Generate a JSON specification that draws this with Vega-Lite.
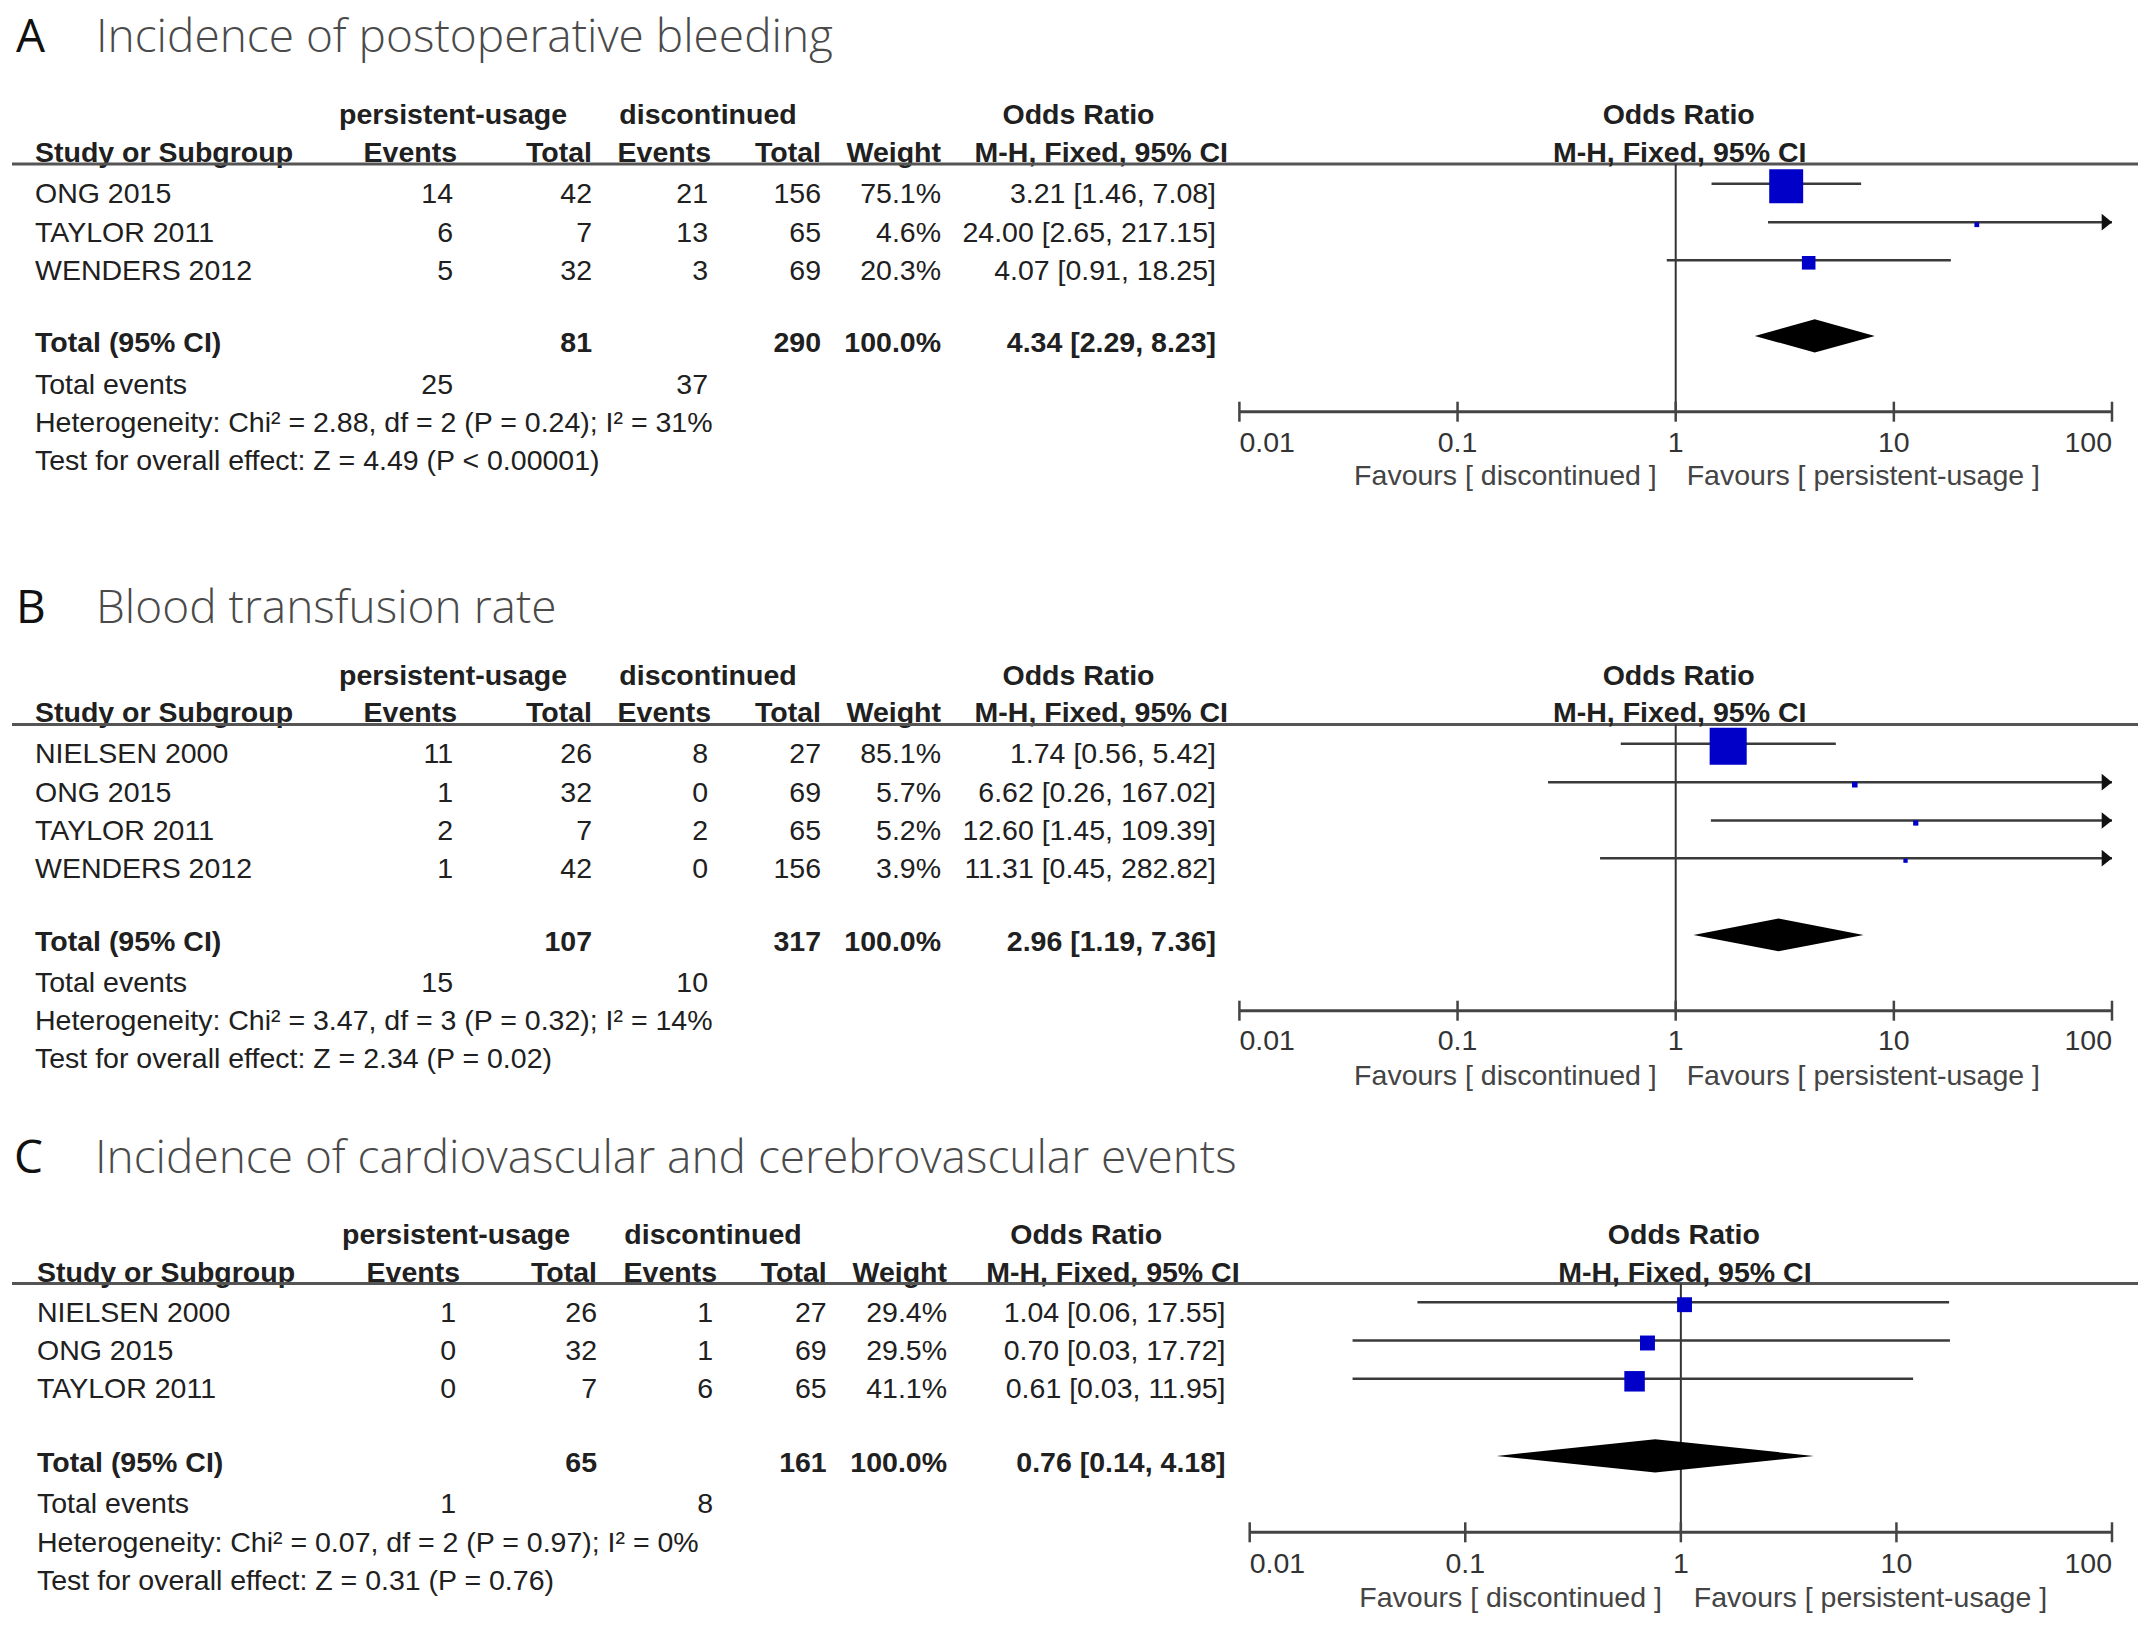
{
  "$schema": "https://vega.github.io/schema/vega-lite/v6.json",
  "width": 2150,
  "height": 1626,
  "padding": 0,
  "autosize": {"type": "none"},
  "background": "white",
  "config": {
    "view": {"stroke": null},
    "text": {"font": "Liberation Sans", "fontSize": 28.5, "color": "#202020", "baseline": "alphabetic"}
  },
  "datasets": {
    "panels": [
      {"panel": "A", "letter": "A", "title": "Incidence of postoperative bleeding", "line": 0, "head1": 1, "head2": 2, "rule": 3, "axis": 9, "tickText": 11, "favours": 13},
      {"panel": "B", "letter": "B", "title": "Blood transfusion rate", "line": 14, "head1": 15, "head2": 16, "rule": 17, "axis": 24, "tickText": 26, "favours": 28},
      {"panel": "C", "letter": "C", "title": "Incidence of cardiovascular and cerebrovascular events", "line": 29, "head1": 30, "head2": 31, "rule": 32, "axis": 38, "tickText": 40, "favours": 42}
    ],
    "studies": [
      {"panel": "A", "line": 4, "study": "ONG 2015", "e1": 14, "n1": 42, "e2": 21, "n2": 156, "weight": 0.751, "ci": "3.21 [1.46, 7.08]", "or": 3.21, "lo": 1.46, "hi": 7.08},
      {"panel": "A", "line": 5, "study": "TAYLOR 2011", "e1": 6, "n1": 7, "e2": 13, "n2": 65, "weight": 0.046, "ci": "24.00 [2.65, 217.15]", "or": 24.0, "lo": 2.65, "hi": 217.15},
      {"panel": "A", "line": 6, "study": "WENDERS 2012", "e1": 5, "n1": 32, "e2": 3, "n2": 69, "weight": 0.203, "ci": "4.07 [0.91, 18.25]", "or": 4.07, "lo": 0.91, "hi": 18.25},
      {"panel": "B", "line": 18, "study": "NIELSEN 2000", "e1": 11, "n1": 26, "e2": 8, "n2": 27, "weight": 0.851, "ci": "1.74 [0.56, 5.42]", "or": 1.74, "lo": 0.56, "hi": 5.42},
      {"panel": "B", "line": 19, "study": "ONG 2015", "e1": 1, "n1": 32, "e2": 0, "n2": 69, "weight": 0.057, "ci": "6.62 [0.26, 167.02]", "or": 6.62, "lo": 0.26, "hi": 167.02},
      {"panel": "B", "line": 20, "study": "TAYLOR 2011", "e1": 2, "n1": 7, "e2": 2, "n2": 65, "weight": 0.052, "ci": "12.60 [1.45, 109.39]", "or": 12.6, "lo": 1.45, "hi": 109.39},
      {"panel": "B", "line": 21, "study": "WENDERS 2012", "e1": 1, "n1": 42, "e2": 0, "n2": 156, "weight": 0.039, "ci": "11.31 [0.45, 282.82]", "or": 11.31, "lo": 0.45, "hi": 282.82},
      {"panel": "C", "line": 33, "study": "NIELSEN 2000", "e1": 1, "n1": 26, "e2": 1, "n2": 27, "weight": 0.294, "ci": "1.04 [0.06, 17.55]", "or": 1.04, "lo": 0.06, "hi": 17.55},
      {"panel": "C", "line": 34, "study": "ONG 2015", "e1": 0, "n1": 32, "e2": 1, "n2": 69, "weight": 0.295, "ci": "0.70 [0.03, 17.72]", "or": 0.7, "lo": 0.03, "hi": 17.72},
      {"panel": "C", "line": 35, "study": "TAYLOR 2011", "e1": 0, "n1": 7, "e2": 6, "n2": 65, "weight": 0.411, "ci": "0.61 [0.03, 11.95]", "or": 0.61, "lo": 0.03, "hi": 11.95}
    ],
    "totals": [
      {"panel": "A", "line": 7, "n1": 81, "n2": 290, "weight": 1, "ci": "4.34 [2.29, 8.23]", "or": 4.34, "lo": 2.29, "hi": 8.23},
      {"panel": "B", "line": 22, "n1": 107, "n2": 317, "weight": 1, "ci": "2.96 [1.19, 7.36]", "or": 2.96, "lo": 1.19, "hi": 7.36},
      {"panel": "C", "line": 36, "n1": 65, "n2": 161, "weight": 1, "ci": "0.76 [0.14, 4.18]", "or": 0.76, "lo": 0.14, "hi": 4.18}
    ],
    "events": [
      {"panel": "A", "line": 8, "ev1": 25, "ev2": 37},
      {"panel": "B", "line": 23, "ev1": 15, "ev2": 10},
      {"panel": "C", "line": 37, "ev1": 1, "ev2": 8}
    ],
    "notes": [
      {"panel": "A", "line": 10, "text": "Heterogeneity: Chi² = 2.88, df = 2 (P = 0.24); I² = 31%"},
      {"panel": "A", "line": 12, "text": "Test for overall effect: Z = 4.49 (P < 0.00001)"},
      {"panel": "B", "line": 25, "text": "Heterogeneity: Chi² = 3.47, df = 3 (P = 0.32); I² = 14%"},
      {"panel": "B", "line": 27, "text": "Test for overall effect: Z = 2.34 (P = 0.02)"},
      {"panel": "C", "line": 39, "text": "Heterogeneity: Chi² = 0.07, df = 2 (P = 0.97); I² = 0%"},
      {"panel": "C", "line": 41, "text": "Test for overall effect: Z = 0.31 (P = 0.76)"}
    ],
    "ticks": [
      {"panel": "A", "v": 0.01, "label": "0.01"}, {"panel": "A", "v": 0.1, "label": "0.1"}, {"panel": "A", "v": 1, "label": "1"}, {"panel": "A", "v": 10, "label": "10"}, {"panel": "A", "v": 100, "label": "100"},
      {"panel": "B", "v": 0.01, "label": "0.01"}, {"panel": "B", "v": 0.1, "label": "0.1"}, {"panel": "B", "v": 1, "label": "1"}, {"panel": "B", "v": 10, "label": "10"}, {"panel": "B", "v": 100, "label": "100"},
      {"panel": "C", "v": 0.01, "label": "0.01"}, {"panel": "C", "v": 0.1, "label": "0.1"}, {"panel": "C", "v": 1, "label": "1"}, {"panel": "C", "v": 10, "label": "10"}, {"panel": "C", "v": 100, "label": "100"}
    ]
  },
  "layer": [
    {
      "layer": [
        {
          "data": {"name": "panels"},
          "transform": [{"filter": "datum.panel != 'C'"}],
          "mark": {"type": "text", "font": "Open Sans", "fontSize": 46, "fontWeight": 400, "color": "#111111", "align": "left"},
          "encoding": {
            "x": {"datum": 1, "type": "quantitative", "scale": {"domain": [0, 1, 2, 3, 4, 5, 6, 7, 8, 9, 10, 11], "range": [12, 16, 35, 96, 453, 592, 708, 821, 941, 1216, 1228, 2138], "nice": false, "zero": false}, "axis": null},
            "y": {"field": "line", "type": "quantitative", "scale": {"domain": [0, 1, 2, 3, 4, 5, 6, 7, 8, 9, 10, 11, 12, 13, 14, 15, 16, 17, 18, 19, 20, 21, 22, 23, 24, 25, 26, 27, 28, 29, 30, 31, 32, 33, 34, 35, 36, 37, 38, 39, 40, 41, 42], "range": [51.5, 123.5, 161.5, 164, 203.3, 241.7, 279.8, 351.7, 394, 411.7, 431.7, 451.7, 470, 485, 622.7, 685, 721.7, 724.5, 763.3, 801.7, 840, 877.7, 950.7, 991.7, 1010.7, 1030, 1050, 1068.3, 1085, 1173.3, 1244, 1281.7, 1283.5, 1321.7, 1360, 1398.3, 1471.7, 1513.3, 1532.3, 1551.7, 1572.7, 1590, 1606.7], "nice": false, "zero": false}, "axis": null},
            "text": {"field": "letter"}
          }
        },
        {
          "data": {"name": "panels"},
          "transform": [{"filter": "datum.panel != 'C'"}],
          "mark": {"type": "text", "font": "Open Sans", "fontSize": 46, "fontWeight": 300, "color": "#4a4a4a", "align": "left"},
          "encoding": {"x": {"datum": 3, "type": "quantitative", "axis": null}, "y": {"field": "line", "type": "quantitative", "axis": null}, "text": {"field": "title"}}
        },
        {
          "data": {"name": "panels"},
          "transform": [{"filter": "datum.panel != 'C'"}],
          "mark": {"type": "text", "fontWeight": "bold", "align": "center"},
          "encoding": {"x": {"datum": 4, "type": "quantitative", "axis": null}, "y": {"field": "head1", "type": "quantitative", "axis": null}, "text": {"value": "persistent-usage"}}
        },
        {
          "data": {"name": "panels"},
          "transform": [{"filter": "datum.panel != 'C'"}],
          "mark": {"type": "text", "fontWeight": "bold", "align": "center"},
          "encoding": {"x": {"datum": 6, "type": "quantitative", "axis": null}, "y": {"field": "head1", "type": "quantitative", "axis": null}, "text": {"value": "discontinued"}}
        },
        {
          "data": {"name": "panels"},
          "transform": [{"filter": "datum.panel != 'C'"}],
          "mark": {"type": "text", "fontWeight": "bold", "align": "center"},
          "encoding": {"x": {"datum": 8.5, "type": "quantitative", "axis": null}, "y": {"field": "head1", "type": "quantitative", "axis": null}, "text": {"value": "Odds Ratio"}}
        },
        {
          "data": {"name": "panels"},
          "transform": [{"filter": "datum.panel != 'C'"}],
          "mark": {"type": "text", "fontWeight": "bold", "align": "left"},
          "encoding": {"x": {"datum": 2, "type": "quantitative", "axis": null}, "y": {"field": "head2", "type": "quantitative", "axis": null}, "text": {"value": "Study or Subgroup"}}
        },
        {
          "data": {"name": "panels"},
          "transform": [{"filter": "datum.panel != 'C'"}],
          "mark": {"type": "text", "fontWeight": "bold", "align": "right", "dx": 4},
          "encoding": {"x": {"datum": 4, "type": "quantitative", "axis": null}, "y": {"field": "head2", "type": "quantitative", "axis": null}, "text": {"value": "Events"}}
        },
        {
          "data": {"name": "panels"},
          "transform": [{"filter": "datum.panel != 'C'"}],
          "mark": {"type": "text", "fontWeight": "bold", "align": "right"},
          "encoding": {"x": {"datum": 5, "type": "quantitative", "axis": null}, "y": {"field": "head2", "type": "quantitative", "axis": null}, "text": {"value": "Total"}}
        },
        {
          "data": {"name": "panels"},
          "transform": [{"filter": "datum.panel != 'C'"}],
          "mark": {"type": "text", "fontWeight": "bold", "align": "right", "dx": 3},
          "encoding": {"x": {"datum": 6, "type": "quantitative", "axis": null}, "y": {"field": "head2", "type": "quantitative", "axis": null}, "text": {"value": "Events"}}
        },
        {
          "data": {"name": "panels"},
          "transform": [{"filter": "datum.panel != 'C'"}],
          "mark": {"type": "text", "fontWeight": "bold", "align": "right"},
          "encoding": {"x": {"datum": 7, "type": "quantitative", "axis": null}, "y": {"field": "head2", "type": "quantitative", "axis": null}, "text": {"value": "Total"}}
        },
        {
          "data": {"name": "panels"},
          "transform": [{"filter": "datum.panel != 'C'"}],
          "mark": {"type": "text", "fontWeight": "bold", "align": "right"},
          "encoding": {"x": {"datum": 8, "type": "quantitative", "axis": null}, "y": {"field": "head2", "type": "quantitative", "axis": null}, "text": {"value": "Weight"}}
        },
        {
          "data": {"name": "panels"},
          "transform": [{"filter": "datum.panel != 'C'"}],
          "mark": {"type": "text", "fontWeight": "bold", "align": "right"},
          "encoding": {"x": {"datum": 10, "type": "quantitative", "axis": null}, "y": {"field": "head2", "type": "quantitative", "axis": null}, "text": {"value": "M-H, Fixed, 95% CI"}}
        },
        {
          "data": {"name": "panels"},
          "transform": [{"filter": "datum.panel != 'C'"}],
          "mark": {"type": "rule", "color": "#555555", "strokeWidth": 3},
          "encoding": {"x": {"datum": 0, "type": "quantitative", "axis": null}, "x2": {"datum": 11}, "y": {"field": "rule", "type": "quantitative", "axis": null}}
        },
        {
          "data": {"name": "studies"},
          "transform": [{"filter": "datum.panel != 'C'"}],
          "mark": {"type": "text", "align": "left"},
          "encoding": {"x": {"datum": 2, "type": "quantitative", "axis": null}, "y": {"field": "line", "type": "quantitative", "axis": null}, "text": {"field": "study"}}
        },
        {
          "data": {"name": "studies"},
          "transform": [{"filter": "datum.panel != 'C'"}],
          "mark": {"type": "text", "align": "right"},
          "encoding": {"x": {"datum": 4, "type": "quantitative", "axis": null}, "y": {"field": "line", "type": "quantitative", "axis": null}, "text": {"field": "e1", "type": "quantitative"}}
        },
        {
          "data": {"name": "studies"},
          "transform": [{"filter": "datum.panel != 'C'"}],
          "mark": {"type": "text", "align": "right"},
          "encoding": {"x": {"datum": 5, "type": "quantitative", "axis": null}, "y": {"field": "line", "type": "quantitative", "axis": null}, "text": {"field": "n1", "type": "quantitative"}}
        },
        {
          "data": {"name": "studies"},
          "transform": [{"filter": "datum.panel != 'C'"}],
          "mark": {"type": "text", "align": "right"},
          "encoding": {"x": {"datum": 6, "type": "quantitative", "axis": null}, "y": {"field": "line", "type": "quantitative", "axis": null}, "text": {"field": "e2", "type": "quantitative"}}
        },
        {
          "data": {"name": "studies"},
          "transform": [{"filter": "datum.panel != 'C'"}],
          "mark": {"type": "text", "align": "right"},
          "encoding": {"x": {"datum": 7, "type": "quantitative", "axis": null}, "y": {"field": "line", "type": "quantitative", "axis": null}, "text": {"field": "n2", "type": "quantitative"}}
        },
        {
          "data": {"name": "studies"},
          "transform": [{"filter": "datum.panel != 'C'"}],
          "mark": {"type": "text", "align": "right"},
          "encoding": {"x": {"datum": 8, "type": "quantitative", "axis": null}, "y": {"field": "line", "type": "quantitative", "axis": null}, "text": {"field": "weight", "type": "quantitative", "format": ".1%"}}
        },
        {
          "data": {"name": "studies"},
          "transform": [{"filter": "datum.panel != 'C'"}],
          "mark": {"type": "text", "align": "right"},
          "encoding": {"x": {"datum": 9, "type": "quantitative", "axis": null}, "y": {"field": "line", "type": "quantitative", "axis": null}, "text": {"field": "ci"}}
        },
        {
          "data": {"name": "totals"},
          "transform": [{"filter": "datum.panel != 'C'"}],
          "mark": {"type": "text", "align": "left", "fontWeight": "bold"},
          "encoding": {"x": {"datum": 2, "type": "quantitative", "axis": null}, "y": {"field": "line", "type": "quantitative", "axis": null}, "text": {"value": "Total (95% CI)"}}
        },
        {
          "data": {"name": "totals"},
          "transform": [{"filter": "datum.panel != 'C'"}],
          "mark": {"type": "text", "align": "right", "fontWeight": "bold"},
          "encoding": {"x": {"datum": 5, "type": "quantitative", "axis": null}, "y": {"field": "line", "type": "quantitative", "axis": null}, "text": {"field": "n1", "type": "quantitative"}}
        },
        {
          "data": {"name": "totals"},
          "transform": [{"filter": "datum.panel != 'C'"}],
          "mark": {"type": "text", "align": "right", "fontWeight": "bold"},
          "encoding": {"x": {"datum": 7, "type": "quantitative", "axis": null}, "y": {"field": "line", "type": "quantitative", "axis": null}, "text": {"field": "n2", "type": "quantitative"}}
        },
        {
          "data": {"name": "totals"},
          "transform": [{"filter": "datum.panel != 'C'"}],
          "mark": {"type": "text", "align": "right", "fontWeight": "bold"},
          "encoding": {"x": {"datum": 8, "type": "quantitative", "axis": null}, "y": {"field": "line", "type": "quantitative", "axis": null}, "text": {"field": "weight", "type": "quantitative", "format": ".1%"}}
        },
        {
          "data": {"name": "totals"},
          "transform": [{"filter": "datum.panel != 'C'"}],
          "mark": {"type": "text", "align": "right", "fontWeight": "bold"},
          "encoding": {"x": {"datum": 9, "type": "quantitative", "axis": null}, "y": {"field": "line", "type": "quantitative", "axis": null}, "text": {"field": "ci"}}
        },
        {
          "data": {"name": "events"},
          "transform": [{"filter": "datum.panel != 'C'"}],
          "mark": {"type": "text", "align": "left"},
          "encoding": {"x": {"datum": 2, "type": "quantitative", "axis": null}, "y": {"field": "line", "type": "quantitative", "axis": null}, "text": {"value": "Total events"}}
        },
        {
          "data": {"name": "events"},
          "transform": [{"filter": "datum.panel != 'C'"}],
          "mark": {"type": "text", "align": "right"},
          "encoding": {"x": {"datum": 4, "type": "quantitative", "axis": null}, "y": {"field": "line", "type": "quantitative", "axis": null}, "text": {"field": "ev1", "type": "quantitative"}}
        },
        {
          "data": {"name": "events"},
          "transform": [{"filter": "datum.panel != 'C'"}],
          "mark": {"type": "text", "align": "right"},
          "encoding": {"x": {"datum": 6, "type": "quantitative", "axis": null}, "y": {"field": "line", "type": "quantitative", "axis": null}, "text": {"field": "ev2", "type": "quantitative"}}
        },
        {
          "data": {"name": "notes"},
          "transform": [{"filter": "datum.panel != 'C'"}],
          "mark": {"type": "text", "align": "left"},
          "encoding": {"x": {"datum": 2, "type": "quantitative", "axis": null}, "y": {"field": "line", "type": "quantitative", "axis": null}, "text": {"field": "text"}}
        }
      ]
    },
    {
      "layer": [
        {
          "data": {"name": "panels"},
          "transform": [{"filter": "datum.panel == 'C'"}],
          "mark": {"type": "text", "font": "Open Sans", "fontSize": 46, "fontWeight": 400, "color": "#111111", "align": "left"},
          "encoding": {
            "x": {"datum": 1, "type": "quantitative", "scale": {"domain": [0, 1, 2, 3, 4, 5, 6, 7, 8, 9, 10, 11], "range": [12, 14, 37, 95, 456, 597, 713, 826.7, 947, 1225.5, 1239.6, 2138], "nice": false, "zero": false}, "axis": null},
            "y": {"field": "line", "type": "quantitative", "axis": null},
            "text": {"field": "letter"}
          }
        },
        {
          "data": {"name": "panels"},
          "transform": [{"filter": "datum.panel == 'C'"}],
          "mark": {"type": "text", "font": "Open Sans", "fontSize": 46, "fontWeight": 300, "color": "#4a4a4a", "align": "left"},
          "encoding": {"x": {"datum": 3, "type": "quantitative", "axis": null}, "y": {"field": "line", "type": "quantitative", "axis": null}, "text": {"field": "title"}}
        },
        {
          "data": {"name": "panels"},
          "transform": [{"filter": "datum.panel == 'C'"}],
          "mark": {"type": "text", "fontWeight": "bold", "align": "center"},
          "encoding": {"x": {"datum": 4, "type": "quantitative", "axis": null}, "y": {"field": "head1", "type": "quantitative", "axis": null}, "text": {"value": "persistent-usage"}}
        },
        {
          "data": {"name": "panels"},
          "transform": [{"filter": "datum.panel == 'C'"}],
          "mark": {"type": "text", "fontWeight": "bold", "align": "center"},
          "encoding": {"x": {"datum": 6, "type": "quantitative", "axis": null}, "y": {"field": "head1", "type": "quantitative", "axis": null}, "text": {"value": "discontinued"}}
        },
        {
          "data": {"name": "panels"},
          "transform": [{"filter": "datum.panel == 'C'"}],
          "mark": {"type": "text", "fontWeight": "bold", "align": "center"},
          "encoding": {"x": {"datum": 8.5, "type": "quantitative", "axis": null}, "y": {"field": "head1", "type": "quantitative", "axis": null}, "text": {"value": "Odds Ratio"}}
        },
        {
          "data": {"name": "panels"},
          "transform": [{"filter": "datum.panel == 'C'"}],
          "mark": {"type": "text", "fontWeight": "bold", "align": "left"},
          "encoding": {"x": {"datum": 2, "type": "quantitative", "axis": null}, "y": {"field": "head2", "type": "quantitative", "axis": null}, "text": {"value": "Study or Subgroup"}}
        },
        {
          "data": {"name": "panels"},
          "transform": [{"filter": "datum.panel == 'C'"}],
          "mark": {"type": "text", "fontWeight": "bold", "align": "right", "dx": 4},
          "encoding": {"x": {"datum": 4, "type": "quantitative", "axis": null}, "y": {"field": "head2", "type": "quantitative", "axis": null}, "text": {"value": "Events"}}
        },
        {
          "data": {"name": "panels"},
          "transform": [{"filter": "datum.panel == 'C'"}],
          "mark": {"type": "text", "fontWeight": "bold", "align": "right"},
          "encoding": {"x": {"datum": 5, "type": "quantitative", "axis": null}, "y": {"field": "head2", "type": "quantitative", "axis": null}, "text": {"value": "Total"}}
        },
        {
          "data": {"name": "panels"},
          "transform": [{"filter": "datum.panel == 'C'"}],
          "mark": {"type": "text", "fontWeight": "bold", "align": "right", "dx": 4},
          "encoding": {"x": {"datum": 6, "type": "quantitative", "axis": null}, "y": {"field": "head2", "type": "quantitative", "axis": null}, "text": {"value": "Events"}}
        },
        {
          "data": {"name": "panels"},
          "transform": [{"filter": "datum.panel == 'C'"}],
          "mark": {"type": "text", "fontWeight": "bold", "align": "right"},
          "encoding": {"x": {"datum": 7, "type": "quantitative", "axis": null}, "y": {"field": "head2", "type": "quantitative", "axis": null}, "text": {"value": "Total"}}
        },
        {
          "data": {"name": "panels"},
          "transform": [{"filter": "datum.panel == 'C'"}],
          "mark": {"type": "text", "fontWeight": "bold", "align": "right"},
          "encoding": {"x": {"datum": 8, "type": "quantitative", "axis": null}, "y": {"field": "head2", "type": "quantitative", "axis": null}, "text": {"value": "Weight"}}
        },
        {
          "data": {"name": "panels"},
          "transform": [{"filter": "datum.panel == 'C'"}],
          "mark": {"type": "text", "fontWeight": "bold", "align": "right"},
          "encoding": {"x": {"datum": 10, "type": "quantitative", "axis": null}, "y": {"field": "head2", "type": "quantitative", "axis": null}, "text": {"value": "M-H, Fixed, 95% CI"}}
        },
        {
          "data": {"name": "panels"},
          "transform": [{"filter": "datum.panel == 'C'"}],
          "mark": {"type": "rule", "color": "#555555", "strokeWidth": 3},
          "encoding": {"x": {"datum": 0, "type": "quantitative", "axis": null}, "x2": {"datum": 11}, "y": {"field": "rule", "type": "quantitative", "axis": null}}
        },
        {
          "data": {"name": "studies"},
          "transform": [{"filter": "datum.panel == 'C'"}],
          "mark": {"type": "text", "align": "left"},
          "encoding": {"x": {"datum": 2, "type": "quantitative", "axis": null}, "y": {"field": "line", "type": "quantitative", "axis": null}, "text": {"field": "study"}}
        },
        {
          "data": {"name": "studies"},
          "transform": [{"filter": "datum.panel == 'C'"}],
          "mark": {"type": "text", "align": "right"},
          "encoding": {"x": {"datum": 4, "type": "quantitative", "axis": null}, "y": {"field": "line", "type": "quantitative", "axis": null}, "text": {"field": "e1", "type": "quantitative"}}
        },
        {
          "data": {"name": "studies"},
          "transform": [{"filter": "datum.panel == 'C'"}],
          "mark": {"type": "text", "align": "right"},
          "encoding": {"x": {"datum": 5, "type": "quantitative", "axis": null}, "y": {"field": "line", "type": "quantitative", "axis": null}, "text": {"field": "n1", "type": "quantitative"}}
        },
        {
          "data": {"name": "studies"},
          "transform": [{"filter": "datum.panel == 'C'"}],
          "mark": {"type": "text", "align": "right"},
          "encoding": {"x": {"datum": 6, "type": "quantitative", "axis": null}, "y": {"field": "line", "type": "quantitative", "axis": null}, "text": {"field": "e2", "type": "quantitative"}}
        },
        {
          "data": {"name": "studies"},
          "transform": [{"filter": "datum.panel == 'C'"}],
          "mark": {"type": "text", "align": "right"},
          "encoding": {"x": {"datum": 7, "type": "quantitative", "axis": null}, "y": {"field": "line", "type": "quantitative", "axis": null}, "text": {"field": "n2", "type": "quantitative"}}
        },
        {
          "data": {"name": "studies"},
          "transform": [{"filter": "datum.panel == 'C'"}],
          "mark": {"type": "text", "align": "right"},
          "encoding": {"x": {"datum": 8, "type": "quantitative", "axis": null}, "y": {"field": "line", "type": "quantitative", "axis": null}, "text": {"field": "weight", "type": "quantitative", "format": ".1%"}}
        },
        {
          "data": {"name": "studies"},
          "transform": [{"filter": "datum.panel == 'C'"}],
          "mark": {"type": "text", "align": "right"},
          "encoding": {"x": {"datum": 9, "type": "quantitative", "axis": null}, "y": {"field": "line", "type": "quantitative", "axis": null}, "text": {"field": "ci"}}
        },
        {
          "data": {"name": "totals"},
          "transform": [{"filter": "datum.panel == 'C'"}],
          "mark": {"type": "text", "align": "left", "fontWeight": "bold"},
          "encoding": {"x": {"datum": 2, "type": "quantitative", "axis": null}, "y": {"field": "line", "type": "quantitative", "axis": null}, "text": {"value": "Total (95% CI)"}}
        },
        {
          "data": {"name": "totals"},
          "transform": [{"filter": "datum.panel == 'C'"}],
          "mark": {"type": "text", "align": "right", "fontWeight": "bold"},
          "encoding": {"x": {"datum": 5, "type": "quantitative", "axis": null}, "y": {"field": "line", "type": "quantitative", "axis": null}, "text": {"field": "n1", "type": "quantitative"}}
        },
        {
          "data": {"name": "totals"},
          "transform": [{"filter": "datum.panel == 'C'"}],
          "mark": {"type": "text", "align": "right", "fontWeight": "bold"},
          "encoding": {"x": {"datum": 7, "type": "quantitative", "axis": null}, "y": {"field": "line", "type": "quantitative", "axis": null}, "text": {"field": "n2", "type": "quantitative"}}
        },
        {
          "data": {"name": "totals"},
          "transform": [{"filter": "datum.panel == 'C'"}],
          "mark": {"type": "text", "align": "right", "fontWeight": "bold"},
          "encoding": {"x": {"datum": 8, "type": "quantitative", "axis": null}, "y": {"field": "line", "type": "quantitative", "axis": null}, "text": {"field": "weight", "type": "quantitative", "format": ".1%"}}
        },
        {
          "data": {"name": "totals"},
          "transform": [{"filter": "datum.panel == 'C'"}],
          "mark": {"type": "text", "align": "right", "fontWeight": "bold"},
          "encoding": {"x": {"datum": 9, "type": "quantitative", "axis": null}, "y": {"field": "line", "type": "quantitative", "axis": null}, "text": {"field": "ci"}}
        },
        {
          "data": {"name": "events"},
          "transform": [{"filter": "datum.panel == 'C'"}],
          "mark": {"type": "text", "align": "left"},
          "encoding": {"x": {"datum": 2, "type": "quantitative", "axis": null}, "y": {"field": "line", "type": "quantitative", "axis": null}, "text": {"value": "Total events"}}
        },
        {
          "data": {"name": "events"},
          "transform": [{"filter": "datum.panel == 'C'"}],
          "mark": {"type": "text", "align": "right"},
          "encoding": {"x": {"datum": 4, "type": "quantitative", "axis": null}, "y": {"field": "line", "type": "quantitative", "axis": null}, "text": {"field": "ev1", "type": "quantitative"}}
        },
        {
          "data": {"name": "events"},
          "transform": [{"filter": "datum.panel == 'C'"}],
          "mark": {"type": "text", "align": "right"},
          "encoding": {"x": {"datum": 6, "type": "quantitative", "axis": null}, "y": {"field": "line", "type": "quantitative", "axis": null}, "text": {"field": "ev2", "type": "quantitative"}}
        },
        {
          "data": {"name": "notes"},
          "transform": [{"filter": "datum.panel == 'C'"}],
          "mark": {"type": "text", "align": "left"},
          "encoding": {"x": {"datum": 2, "type": "quantitative", "axis": null}, "y": {"field": "line", "type": "quantitative", "axis": null}, "text": {"field": "text"}}
        }
      ]
    },
    {
      "layer": [
        {
          "data": {"name": "panels"},
          "transform": [{"filter": "datum.panel != 'C'"}],
          "mark": {"type": "text", "fontWeight": "bold", "align": "center", "dx": 3},
          "encoding": {
            "x": {"datum": 1, "type": "quantitative", "scale": {"type": "log", "domain": [0.01, 100], "range": [1239.4, 2112], "clamp": true, "nice": false}, "axis": null},
            "y": {"field": "head1", "type": "quantitative", "axis": null},
            "text": {"value": "Odds Ratio"}
          }
        },
        {
          "data": {"name": "panels"},
          "transform": [{"filter": "datum.panel != 'C'"}],
          "mark": {"type": "text", "fontWeight": "bold", "align": "center", "dx": 4},
          "encoding": {"x": {"datum": 1, "type": "quantitative", "axis": null}, "y": {"field": "head2", "type": "quantitative", "axis": null}, "text": {"value": "M-H, Fixed, 95% CI"}}
        },
        {
          "data": {"name": "panels"},
          "transform": [{"filter": "datum.panel != 'C'"}],
          "mark": {"type": "rule", "color": "#333333", "strokeWidth": 2},
          "encoding": {"x": {"datum": 1, "type": "quantitative", "axis": null}, "y": {"field": "rule", "type": "quantitative", "axis": null}, "y2": {"field": "axis"}}
        },
        {
          "data": {"name": "panels"},
          "transform": [{"filter": "datum.panel != 'C'"}],
          "mark": {"type": "rule", "color": "#444444", "strokeWidth": 3},
          "encoding": {"x": {"datum": 0.01, "type": "quantitative", "axis": null}, "x2": {"datum": 100}, "y": {"field": "axis", "type": "quantitative", "axis": null}}
        },
        {
          "data": {"name": "ticks"},
          "transform": [{"filter": "datum.panel != 'C'"}, {"lookup": "panel", "from": {"data": {"name": "panels"}, "key": "panel", "fields": ["axis", "tickText"]}}],
          "mark": {"type": "rule", "color": "#444444", "strokeWidth": 2.5, "yOffset": -10, "y2Offset": 10},
          "encoding": {"x": {"field": "v", "type": "quantitative", "axis": null}, "y": {"field": "axis", "type": "quantitative", "axis": null}, "y2": {"field": "axis"}}
        },
        {
          "data": {"name": "ticks"},
          "transform": [{"filter": "datum.panel != 'C' && datum.v == 0.01"}, {"lookup": "panel", "from": {"data": {"name": "panels"}, "key": "panel", "fields": ["axis", "tickText"]}}],
          "mark": {"type": "text", "align": "left", "color": "#333333"},
          "encoding": {"x": {"field": "v", "type": "quantitative", "axis": null}, "y": {"field": "tickText", "type": "quantitative", "axis": null}, "text": {"field": "label"}}
        },
        {
          "data": {"name": "ticks"},
          "transform": [{"filter": "datum.panel != 'C' && datum.v > 0.01 && datum.v < 100"}, {"lookup": "panel", "from": {"data": {"name": "panels"}, "key": "panel", "fields": ["axis", "tickText"]}}],
          "mark": {"type": "text", "align": "center", "color": "#333333"},
          "encoding": {"x": {"field": "v", "type": "quantitative", "axis": null}, "y": {"field": "tickText", "type": "quantitative", "axis": null}, "text": {"field": "label"}}
        },
        {
          "data": {"name": "ticks"},
          "transform": [{"filter": "datum.panel != 'C' && datum.v == 100"}, {"lookup": "panel", "from": {"data": {"name": "panels"}, "key": "panel", "fields": ["axis", "tickText"]}}],
          "mark": {"type": "text", "align": "right", "color": "#333333"},
          "encoding": {"x": {"field": "v", "type": "quantitative", "axis": null}, "y": {"field": "tickText", "type": "quantitative", "axis": null}, "text": {"field": "label"}}
        },
        {
          "data": {"name": "panels"},
          "transform": [{"filter": "datum.panel != 'C'"}],
          "mark": {"type": "text", "align": "right", "dx": -19, "color": "#444444"},
          "encoding": {"x": {"datum": 1, "type": "quantitative", "axis": null}, "y": {"field": "favours", "type": "quantitative", "axis": null}, "text": {"value": "Favours [ discontinued ]"}}
        },
        {
          "data": {"name": "panels"},
          "transform": [{"filter": "datum.panel != 'C'"}],
          "mark": {"type": "text", "align": "left", "dx": 11, "color": "#444444"},
          "encoding": {"x": {"datum": 1, "type": "quantitative", "axis": null}, "y": {"field": "favours", "type": "quantitative", "axis": null}, "text": {"value": "Favours [ persistent-usage ]"}}
        },
        {
          "data": {"name": "studies"},
          "transform": [{"filter": "datum.panel != 'C'"}],
          "mark": {"type": "rule", "color": "#3a3a3a", "strokeWidth": 2.5, "yOffset": -19.5},
          "encoding": {"x": {"field": "lo", "type": "quantitative", "axis": null}, "x2": {"field": "hi"}, "y": {"field": "line", "type": "quantitative", "axis": null}}
        },
        {
          "data": {"name": "studies"},
          "transform": [{"filter": "datum.panel != 'C'"}],
          "mark": {"type": "point", "shape": "square", "filled": true, "color": "#0000c8", "opacity": 1, "yOffset": -17},
          "encoding": {
            "x": {"field": "or", "type": "quantitative", "axis": null},
            "y": {"field": "line", "type": "quantitative", "axis": null},
            "size": {"field": "weight", "type": "quantitative", "scale": {"type": "pow", "exponent": 1.4, "domain": [0, 1], "range": [0, 1722]}, "legend": null}
          }
        },
        {
          "data": {"name": "studies"},
          "transform": [{"filter": "datum.panel != 'C' && datum.hi > 100"}],
          "mark": {"type": "point", "shape": "M-1,-0.81L0,0L-1,0.81Z", "size": 424, "filled": true, "color": "#111111", "opacity": 1, "yOffset": -19.5},
          "encoding": {"x": {"field": "hi", "type": "quantitative", "axis": null}, "y": {"field": "line", "type": "quantitative", "axis": null}}
        },
        {
          "data": {"name": "totals"},
          "transform": [{"filter": "datum.panel == 'A'"}],
          "mark": {"type": "point", "shape": "M-1,0L0,-0.278L1,0L0,0.278Z", "size": 14400, "filled": true, "color": "#000000", "opacity": 1, "yOffset": -15.8},
          "encoding": {"x": {"field": "or", "type": "quantitative", "axis": null}, "y": {"field": "line", "type": "quantitative", "axis": null}}
        },
        {
          "data": {"name": "totals"},
          "transform": [{"filter": "datum.panel == 'B'"}],
          "mark": {"type": "point", "shape": "M-1,0L0,-0.192L1,0L0,0.192Z", "size": 28900, "filled": true, "color": "#000000", "opacity": 1, "yOffset": -15.8},
          "encoding": {"x": {"field": "or", "type": "quantitative", "axis": null}, "y": {"field": "line", "type": "quantitative", "axis": null}}
        }
      ]
    },
    {
      "layer": [
        {
          "data": {"name": "panels"},
          "transform": [{"filter": "datum.panel == 'C'"}],
          "mark": {"type": "text", "fontWeight": "bold", "align": "center", "dx": 3},
          "encoding": {
            "x": {"datum": 1, "type": "quantitative", "scale": {"type": "log", "domain": [0.01, 100], "range": [1249.7, 2112], "clamp": true, "nice": false}, "axis": null},
            "y": {"field": "head1", "type": "quantitative", "axis": null},
            "text": {"value": "Odds Ratio"}
          }
        },
        {
          "data": {"name": "panels"},
          "transform": [{"filter": "datum.panel == 'C'"}],
          "mark": {"type": "text", "fontWeight": "bold", "align": "center", "dx": 4},
          "encoding": {"x": {"datum": 1, "type": "quantitative", "axis": null}, "y": {"field": "head2", "type": "quantitative", "axis": null}, "text": {"value": "M-H, Fixed, 95% CI"}}
        },
        {
          "data": {"name": "panels"},
          "transform": [{"filter": "datum.panel == 'C'"}],
          "mark": {"type": "rule", "color": "#333333", "strokeWidth": 2},
          "encoding": {"x": {"datum": 1, "type": "quantitative", "axis": null}, "y": {"field": "rule", "type": "quantitative", "axis": null}, "y2": {"field": "axis"}}
        },
        {
          "data": {"name": "panels"},
          "transform": [{"filter": "datum.panel == 'C'"}],
          "mark": {"type": "rule", "color": "#444444", "strokeWidth": 3},
          "encoding": {"x": {"datum": 0.01, "type": "quantitative", "axis": null}, "x2": {"datum": 100}, "y": {"field": "axis", "type": "quantitative", "axis": null}}
        },
        {
          "data": {"name": "ticks"},
          "transform": [{"filter": "datum.panel == 'C'"}, {"lookup": "panel", "from": {"data": {"name": "panels"}, "key": "panel", "fields": ["axis", "tickText"]}}],
          "mark": {"type": "rule", "color": "#444444", "strokeWidth": 2.5, "yOffset": -10, "y2Offset": 10},
          "encoding": {"x": {"field": "v", "type": "quantitative", "axis": null}, "y": {"field": "axis", "type": "quantitative", "axis": null}, "y2": {"field": "axis"}}
        },
        {
          "data": {"name": "ticks"},
          "transform": [{"filter": "datum.panel == 'C' && datum.v == 0.01"}, {"lookup": "panel", "from": {"data": {"name": "panels"}, "key": "panel", "fields": ["axis", "tickText"]}}],
          "mark": {"type": "text", "align": "left", "color": "#333333"},
          "encoding": {"x": {"field": "v", "type": "quantitative", "axis": null}, "y": {"field": "tickText", "type": "quantitative", "axis": null}, "text": {"field": "label"}}
        },
        {
          "data": {"name": "ticks"},
          "transform": [{"filter": "datum.panel == 'C' && datum.v > 0.01 && datum.v < 100"}, {"lookup": "panel", "from": {"data": {"name": "panels"}, "key": "panel", "fields": ["axis", "tickText"]}}],
          "mark": {"type": "text", "align": "center", "color": "#333333"},
          "encoding": {"x": {"field": "v", "type": "quantitative", "axis": null}, "y": {"field": "tickText", "type": "quantitative", "axis": null}, "text": {"field": "label"}}
        },
        {
          "data": {"name": "ticks"},
          "transform": [{"filter": "datum.panel == 'C' && datum.v == 100"}, {"lookup": "panel", "from": {"data": {"name": "panels"}, "key": "panel", "fields": ["axis", "tickText"]}}],
          "mark": {"type": "text", "align": "right", "color": "#333333"},
          "encoding": {"x": {"field": "v", "type": "quantitative", "axis": null}, "y": {"field": "tickText", "type": "quantitative", "axis": null}, "text": {"field": "label"}}
        },
        {
          "data": {"name": "panels"},
          "transform": [{"filter": "datum.panel == 'C'"}],
          "mark": {"type": "text", "align": "right", "dx": -19, "color": "#444444"},
          "encoding": {"x": {"datum": 1, "type": "quantitative", "axis": null}, "y": {"field": "favours", "type": "quantitative", "axis": null}, "text": {"value": "Favours [ discontinued ]"}}
        },
        {
          "data": {"name": "panels"},
          "transform": [{"filter": "datum.panel == 'C'"}],
          "mark": {"type": "text", "align": "left", "dx": 13, "color": "#444444"},
          "encoding": {"x": {"datum": 1, "type": "quantitative", "axis": null}, "y": {"field": "favours", "type": "quantitative", "axis": null}, "text": {"value": "Favours [ persistent-usage ]"}}
        },
        {
          "data": {"name": "studies"},
          "transform": [{"filter": "datum.panel == 'C'"}],
          "mark": {"type": "rule", "color": "#3a3a3a", "strokeWidth": 2.5, "yOffset": -19.5},
          "encoding": {"x": {"field": "lo", "type": "quantitative", "axis": null}, "x2": {"field": "hi"}, "y": {"field": "line", "type": "quantitative", "axis": null}}
        },
        {
          "data": {"name": "studies"},
          "transform": [{"filter": "datum.panel == 'C'"}],
          "mark": {"type": "point", "shape": "square", "filled": true, "color": "#0000c8", "opacity": 1, "yOffset": -17},
          "encoding": {
            "x": {"field": "or", "type": "quantitative", "axis": null},
            "y": {"field": "line", "type": "quantitative", "axis": null},
            "size": {"field": "weight", "type": "quantitative", "scale": {"type": "pow", "exponent": 1.9, "domain": [0, 1], "range": [0, 2272]}, "legend": null}
          }
        },
        {
          "data": {"name": "totals"},
          "transform": [{"filter": "datum.panel == 'C'"}],
          "mark": {"type": "point", "shape": "M-1,0L0,-0.105L1,0L0,0.105Z", "size": 100489, "filled": true, "color": "#000000", "opacity": 1, "yOffset": -15.8},
          "encoding": {"x": {"field": "or", "type": "quantitative", "axis": null}, "y": {"field": "line", "type": "quantitative", "axis": null}}
        }
      ]
    }
  ],
  "resolve": {"scale": {"x": "independent", "size": "independent"}}
}
